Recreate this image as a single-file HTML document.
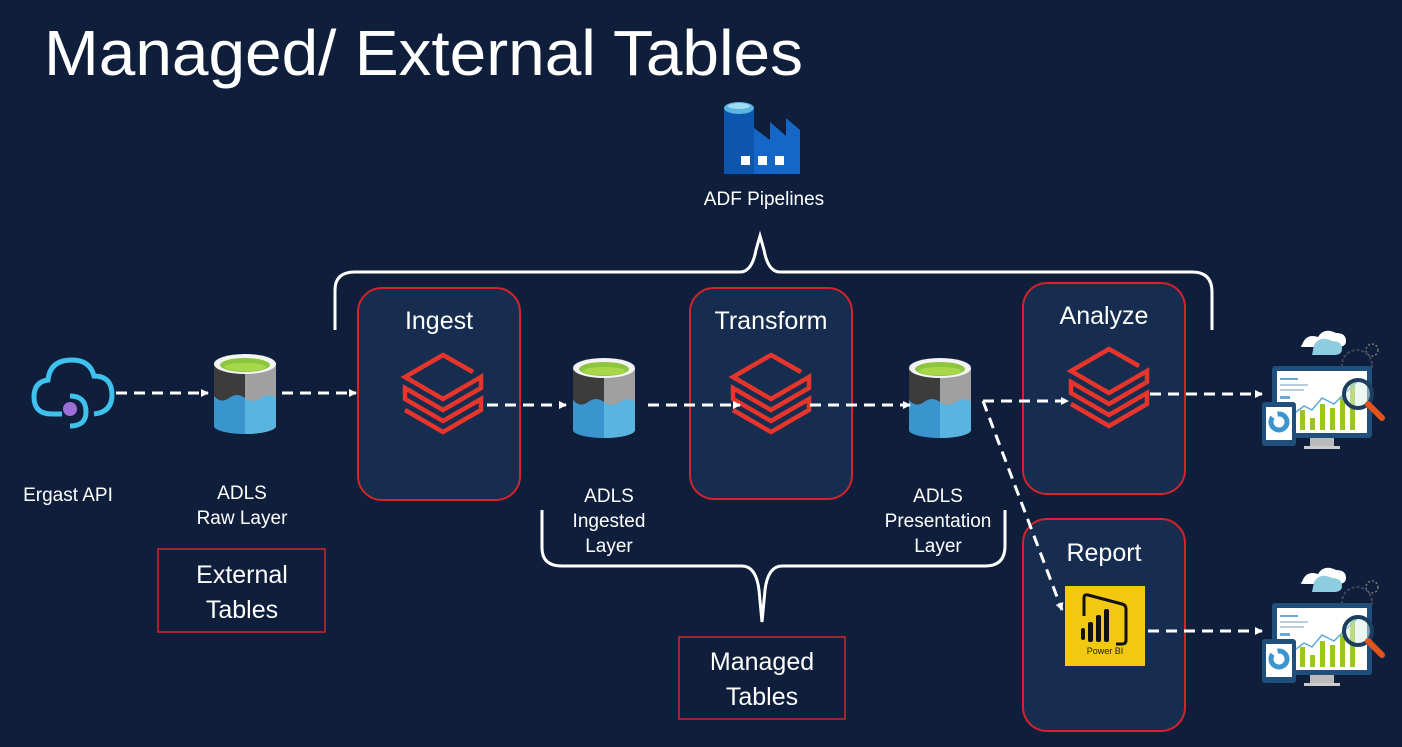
<!DOCTYPE html>
<html><head><meta charset="utf-8"><style>
html,body{margin:0;padding:0;background:#0f1f3b;}
svg{display:block;font-family:"Liberation Sans",Arial,sans-serif;}
</style></head><body>
<svg width="1402" height="747" viewBox="0 0 1402 747" xmlns="http://www.w3.org/2000/svg">
<defs>
<marker id="ah" markerWidth="8" markerHeight="8" refX="7" refY="4" orient="auto" markerUnits="userSpaceOnUse"><path d="M0,0 L8,4 L0,8 Z" fill="#fff"/></marker>
<g id="layers" fill="none" stroke="#e8352b" stroke-width="4.5" stroke-linejoin="miter">
<path d="M30,-30 L0,-47 L-38,-25 L0,-3 L38,-25 L38,-14 L0,8 L-38,-14 L-38,-3 L0,19 L38,-3 L38,8 L0,30 L-38,8"/>
</g>
<g id="cyl">
<path d="M-31,-32 L-31,30 A31,8 0 0 0 0,38 L0,-32 Z" fill="#3c3c3c"/>
<path d="M0,-32 L0,38 A31,8 0 0 0 31,30 L31,-32 Z" fill="#a0a0a0"/>
<path d="M-31,0 Q-24,8 -16,2 Q-8,-4 0,2 L0,38 A31,8 0 0 1 -31,30 Z" fill="#3a95cf"/>
<path d="M0,2 Q8,8 16,2 Q24,-4 31,2 L31,30 A31,8 0 0 1 0,38 Z" fill="#5ab4e0"/>
<ellipse cx="0" cy="-32" rx="31" ry="10" fill="#f4f4f4"/>
<ellipse cx="0" cy="-31" rx="25" ry="7" fill="#8cc63f"/>
<ellipse cx="0" cy="-29" rx="21" ry="4" fill="#a8d84a"/>
</g>
<g id="dash">
<path d="M0,0 q4,-12 16,-8 q6,-10 18,-4 q10,0 10,8 q0,6 -8,6 h-32 q-8,0 -4,-2z" fill="#fff" transform="translate(40,-15)"/>
<path d="M0,0 q6,-10 18,-4 q10,0 10,8 q0,6 -8,6 h-22z" fill="#8ecde0" transform="translate(52,-15)"/>
<circle cx="110" cy="-10" r="6" fill="none" stroke="#777" stroke-width="1.5" stroke-dasharray="2 2"/>
<circle cx="95" cy="5" r="15" fill="none" stroke="#445" stroke-width="2" stroke-dasharray="3 2"/>
<rect x="10" y="6" width="100" height="72" rx="3" fill="#1f4f7a"/>
<rect x="15" y="11" width="90" height="62" fill="#fff"/>
<rect x="18" y="18" width="18" height="2" fill="#6aa9d6"/><rect x="18" y="24" width="28" height="2" fill="#bcd"/><rect x="18" y="29" width="24" height="2" fill="#bcd"/><rect x="18" y="36" width="10" height="3" fill="#6aa9d6"/>
<g fill="#9bc520"><rect x="38" y="50" width="5" height="20"/><rect x="48" y="58" width="5" height="12"/><rect x="58" y="44" width="5" height="26"/><rect x="68" y="48" width="5" height="22"/><rect x="78" y="38" width="5" height="32"/><rect x="88" y="22" width="5" height="48"/></g>
<polyline points="30,55 42,46 50,50 60,38 72,44 82,34 95,22" fill="none" stroke="#5aa9d6" stroke-width="1.5"/>
<rect x="48" y="78" width="24" height="8" fill="#bbb"/><rect x="42" y="86" width="36" height="3" fill="#ccc"/>
<circle cx="96" cy="34" r="14" fill="rgba(220,240,230,0.5)" stroke="#1d3e5e" stroke-width="4"/>
<line x1="106" y1="44" x2="120" y2="58" stroke="#e3541c" stroke-width="6" stroke-linecap="round"/>
<rect x="0" y="42" width="34" height="44" rx="3" fill="#1f4f7a"/>
<rect x="4" y="47" width="26" height="33" fill="#fff"/>
<circle cx="17" cy="62" r="8" fill="none" stroke="#3a95cf" stroke-width="5" stroke-dasharray="30 6"/>
</g>
</defs>

<text x="44" y="75" font-size="64" fill="#fff" textLength="759" lengthAdjust="spacingAndGlyphs">Managed/ External Tables</text>

<g transform="translate(724,100)">
<path d="M0,8 L0,74 L76,74 L76,30 L62,18 L62,36 L46,22 L46,40 L30,28 L30,8 Z" fill="#1566c7"/>
<path d="M0,8 L0,74 L30,74 L30,8 Z" fill="#0d56b0"/>
<ellipse cx="15" cy="8" rx="15" ry="6" fill="#5ab4e0"/>
<ellipse cx="15" cy="6" rx="11" ry="3" fill="#9fdcf5"/>
<rect x="17" y="56" width="9" height="9" fill="#fff"/><rect x="34" y="56" width="9" height="9" fill="#fff"/><rect x="51" y="56" width="9" height="9" fill="#fff"/>
</g>
<text x="764" y="205" font-size="19" fill="#fff" text-anchor="middle">ADF Pipelines</text>

<path d="M335,330 L335,290 Q335,272 355,272 L740,272 Q752,272 756,250 L760,236 L764,250 Q768,272 780,272 L1192,272 Q1212,272 1212,292 L1212,330" fill="none" stroke="#fff" stroke-width="3"/>
<path d="M542,510 L542,548 Q542,566 562,566 L742,566 Q756,566 759,590 L762,622 L765,590 Q768,566 782,566 L985,566 Q1005,566 1005,546 L1005,510" fill="none" stroke="#fff" stroke-width="3"/>

<g fill="#162d50" stroke="#d4232a" stroke-width="2">
<rect x="358" y="288" width="162" height="212" rx="24"/>
<rect x="690" y="288" width="162" height="211" rx="24"/>
<rect x="1023" y="283" width="162" height="211" rx="24"/>
<rect x="1023" y="519" width="162" height="212" rx="24"/>
</g>
<g fill="none" stroke="#d4232a" stroke-width="1.5">
<rect x="158" y="549" width="167" height="83"/>
<rect x="679" y="637" width="166" height="82"/>
</g>
<g fill="#fff" font-size="25" text-anchor="middle">
<text x="439" y="329">Ingest</text>
<text x="771" y="329">Transform</text>
<text x="1104" y="324">Analyze</text>
<text x="1104" y="561">Report</text>
<text x="242" y="583">External</text>
<text x="242" y="618">Tables</text>
<text x="762" y="670">Managed</text>
<text x="762" y="705">Tables</text>
</g>

<use href="#layers" x="443" y="402"/>
<use href="#layers" x="771" y="402"/>
<use href="#layers" x="1109" y="396"/>

<use href="#cyl" x="245" y="396"/>
<use href="#cyl" x="604" y="400"/>
<use href="#cyl" x="940" y="400"/>

<g transform="translate(72,392)">
<path d="M-10,22 L-20,22 Q-38,22 -38,5 Q-38,-10 -24,-12 Q-22,-32 0,-32 Q18,-32 22,-16 Q40,-16 40,3 Q40,20 22,22" fill="none" stroke="#3ec1ed" stroke-width="5"/>
<path d="M-2,4 Q14,4 14,20 Q14,34 -2,34" fill="none" stroke="#3ec1ed" stroke-width="5"/>
<circle cx="-2" cy="17" r="7" fill="#9b6fd6"/>
</g>

<g fill="#fff" font-size="19" text-anchor="middle">
<text x="68" y="501">Ergast API</text>
<text x="242" y="499">ADLS</text><text x="242" y="524">Raw Layer</text>
<text x="609" y="502">ADLS</text><text x="609" y="527">Ingested</text><text x="609" y="552">Layer</text>
<text x="938" y="502">ADLS</text><text x="938" y="527">Presentation</text><text x="938" y="552">Layer</text>
</g>

<g stroke="#fff" stroke-width="3" stroke-dasharray="11 7" fill="none" marker-end="url(#ah)">
<line x1="116" y1="393" x2="208" y2="393"/>
<line x1="282" y1="393" x2="356" y2="393"/>
<line x1="487" y1="405" x2="566" y2="405"/>
<line x1="648" y1="405" x2="740" y2="405"/>
<line x1="810" y1="405" x2="910" y2="405"/>
<line x1="983" y1="401" x2="1068" y2="401"/>
<line x1="1150" y1="394" x2="1262" y2="394"/>
<line x1="983" y1="401" x2="1062" y2="610"/>
<line x1="1148" y1="631" x2="1262" y2="631"/>
</g>

<rect x="1065" y="586" width="80" height="80" fill="#f2c811"/>
<g fill="none" stroke="#111" stroke-width="3">
<path d="M1084,616 L1084,598 Q1084,594 1088,595 L1122,604 Q1126,605 1126,609 L1126,640 Q1126,644 1122,644 L1116,644"/>
</g>
<g fill="#111"><rect x="1081" y="628" width="4" height="12" rx="2"/><rect x="1088" y="622" width="5" height="20" rx="2"/><rect x="1096" y="615" width="5" height="27" rx="2"/><rect x="1104" y="609" width="5" height="33" rx="2"/></g>
<text x="1105" y="654" font-size="9" fill="#222" text-anchor="middle">Power BI</text>

<use href="#dash" x="1262" y="360"/>
<use href="#dash" x="1262" y="597"/>
</svg>
</body></html>
